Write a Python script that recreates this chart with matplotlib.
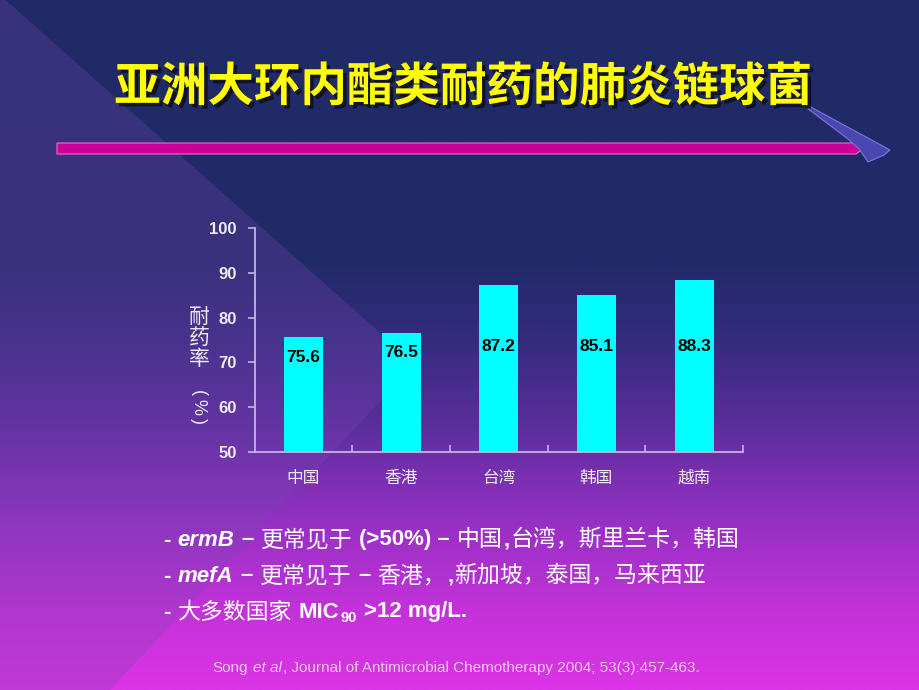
"""Slide: macrolide-resistant S. pneumoniae across Asia (bar chart on a gradient slide)."""

import matplotlib

matplotlib.use("Agg")

import matplotlib.patheffects as pe  # noqa: E402
import matplotlib.pyplot as plt  # noqa: E402
import numpy as np  # noqa: E402
from matplotlib.colors import LinearSegmentedColormap  # noqa: E402
from matplotlib.patches import Polygon  # noqa: E402

# ---------------------------------------------------------------------------
# Data
# ---------------------------------------------------------------------------
REGIONS = ["中国", "香港", "台湾", "韩国", "越南"]
RESISTANCE = [75.6, 76.5, 87.2, 85.1, 88.3]
Y_TICKS = [50, 60, 70, 80, 90, 100]

TITLE = "亚洲大环内酯类耐药的肺炎链球菌"
Y_LABEL_CHARS = "耐药率"
Y_LABEL_UNIT = "(%)"

# each bullet line is a list of (text, style) runs
BULLETS = [
    [("- ", "b"), ("ermB", "bi"), (" – ", "b"), ("更常见于", "cjk"),
     (" (>50%) – ", "b"), ("中国", "cjk"), (",", "b"), ("台湾，斯里兰卡，韩国", "cjk")],
    [("- ", "b"), ("mefA", "bi"), (" – ", "b"), ("更常见于", "cjk"),
     (" – ", "b"), ("香港，", "cjk"), (",", "b"), ("新加坡，泰国，马来西亚", "cjk")],
    [("- ", "b"), ("大多数国家", "cjk"), (" MIC", "b"), ("90", "sub"),
     (" >12 mg/L.", "b")],
]
CITATION = [("Song ", "r"), ("et al", "i"),
            (", Journal of Antimicrobial Chemotherapy 2004; 53(3):457-463.", "r")]

# ---------------------------------------------------------------------------
# Styling
# ---------------------------------------------------------------------------
W, H, DPI = 920, 690, 100
CJK = "Noto Sans CJK SC"
LATIN = "Liberation Sans"

BG_STOPS = [
    (0.00, "#1f2a66"),
    (0.38, "#212a68"),
    (0.50, "#362c80"),
    (0.62, "#5c2e9c"),
    (0.75, "#9230c2"),
    (0.88, "#c232d8"),
    (1.00, "#dc34e6"),
]
AXIS_COLOR = "#c4b4e4"
LABEL_COLOR = "#f0eaf8"
BAR_COLOR = "#00ffff"

RUN_STYLES = {
    "b": dict(family=[LATIN, CJK], weight="bold", size=16),
    "bi": dict(family=[LATIN, CJK], weight="bold", style="italic", size=16),
    "cjk": dict(family=[CJK], weight="medium", size=16.5),
    "sub": dict(family=[LATIN], weight="bold", size=10.5),
    "r": dict(family=[LATIN], size=11),
    "i": dict(family=[LATIN], style="italic", size=11),
}


def text_width(ax, renderer, s, props):
    t = ax.text(0, 0, s, **props)
    w = t.get_window_extent(renderer).width
    t.remove()
    return w


def draw_runs(ax, renderer, x, y, runs, color):
    """Lay out differently styled text runs one after another (pixel coords)."""
    for text, style in runs:
        props = RUN_STYLES[style]
        space = text_width(ax, renderer, "x x", props) - text_width(ax, renderer, "xx", props)
        core = text.strip()
        if not core:
            x += len(text) * space
            continue
        x += (len(text) - len(text.lstrip())) * space
        dy = 6 if style == "sub" else 0
        t = ax.text(x, y + dy, core, ha="left", va="center", color=color, **props)
        x += t.get_window_extent(renderer).width + 1
        x += (len(text) - len(text.rstrip())) * space


def draw_background(bg):
    cmap = LinearSegmentedColormap.from_list("slide", BG_STOPS)
    grad = np.linspace(0, 1, 256).reshape(-1, 1)
    bg.imshow(grad, cmap=cmap, extent=(0, W, H, 0), aspect="auto", zorder=0)
    # lighter diagonal wedge on the left
    bg.add_patch(Polygon([(0, -5), (415, 364), (110, H), (0, H)],
                         closed=True, facecolor="#7a46b4", alpha=0.28,
                         edgecolor="none", zorder=1))
    # magenta rule under the title with its arrow head
    bg.add_patch(Polygon([(57, 143), (856, 143), (863, 148.5), (856, 154), (57, 154)],
                         closed=True, facecolor="#cc0099", edgecolor="#e870c8",
                         linewidth=0.8, zorder=2))
    bg.add_patch(Polygon([(807, 105), (890, 150), (884, 155), (868, 162),
                          (860, 150), (848, 139), (807, 108)],
                         closed=True, facecolor="#4a46b2", edgecolor="#7c78d8",
                         linewidth=0.8, zorder=2))


def draw_chart(fig):
    left, right, top, bottom = 254.6, 743, 228, 452
    ax = fig.add_axes([left / W, 1 - bottom / H, (right - left) / W, (bottom - top) / H])
    ax.patch.set_alpha(0)
    x = np.arange(len(REGIONS))
    ax.bar(x, [v - 50 for v in RESISTANCE], bottom=50, width=0.40,
           color=BAR_COLOR, edgecolor="none")
    for xi, v in zip(x, RESISTANCE):
        ax.text(xi, min(v - 4.4, 73.5), f"{v:.1f}", ha="center", va="center",
                family=LATIN, weight="bold", size=12.5, color="black")

    ax.set_xlim(-0.5, len(REGIONS) - 0.5)
    ax.set_ylim(50, 100)
    ax.set_yticks(Y_TICKS)
    ax.set_yticklabels([str(t) for t in Y_TICKS], family=LATIN, weight="bold",
                       size=12, color=LABEL_COLOR)
    ax.set_xticks(x)
    ax.set_xticklabels(REGIONS, family=CJK, size=12, color=LABEL_COLOR)
    ax.set_xticks(np.arange(len(REGIONS)) + 0.5, minor=True)
    ax.tick_params(axis="x", which="major", length=0, pad=13)
    ax.tick_params(axis="x", which="minor", direction="in", length=5,
                   color=AXIS_COLOR, width=1.2)
    ax.tick_params(axis="y", direction="out", length=5, color=AXIS_COLOR,
                   width=1.2, pad=8)
    for side in ("top", "right"):
        ax.spines[side].set_visible(False)
    for side in ("left", "bottom"):
        ax.spines[side].set_color(AXIS_COLOR)
        ax.spines[side].set_linewidth(1.3)
    return ax


def main():
    fig = plt.figure(figsize=(W / DPI, H / DPI), dpi=DPI)
    bg = fig.add_axes([0, 0, 1, 1])
    bg.set_xlim(0, W)
    bg.set_ylim(H, 0)
    bg.axis("off")
    draw_background(bg)
    renderer = fig.canvas.get_renderer()

    bg.text(463, 87, TITLE, ha="center", va="center", family=[CJK], weight="bold",
            size=33.5, color="#ffff00", zorder=5,
            path_effects=[pe.withSimplePatchShadow(offset=(2.5, -2.5),
                                                   shadow_rgbFace="#101020", alpha=0.9)])

    draw_chart(fig)

    # stacked vertical y-axis label; the unit is set sideways, one sign at a time
    for i, ch in enumerate(Y_LABEL_CHARS):
        bg.text(199, 317 + i * 21, ch, ha="center", va="center", family=[CJK],
                size=15, color=LABEL_COLOR)
    for i, ch in enumerate(Y_LABEL_UNIT):
        bg.text(198, 393 + i * 14, ch, ha="center", va="center", rotation=-90,
                family=[LATIN], size=13, color=LABEL_COLOR)

    for i, runs in enumerate(BULLETS):
        draw_runs(bg, renderer, 163, 540 + i * 36, runs, "white")
    draw_runs(bg, renderer, 212, 668, CITATION, "#f2c8f2")

    fig.savefig("out.png", dpi=DPI)
    plt.close(fig)


if __name__ == "__main__":
    main()
